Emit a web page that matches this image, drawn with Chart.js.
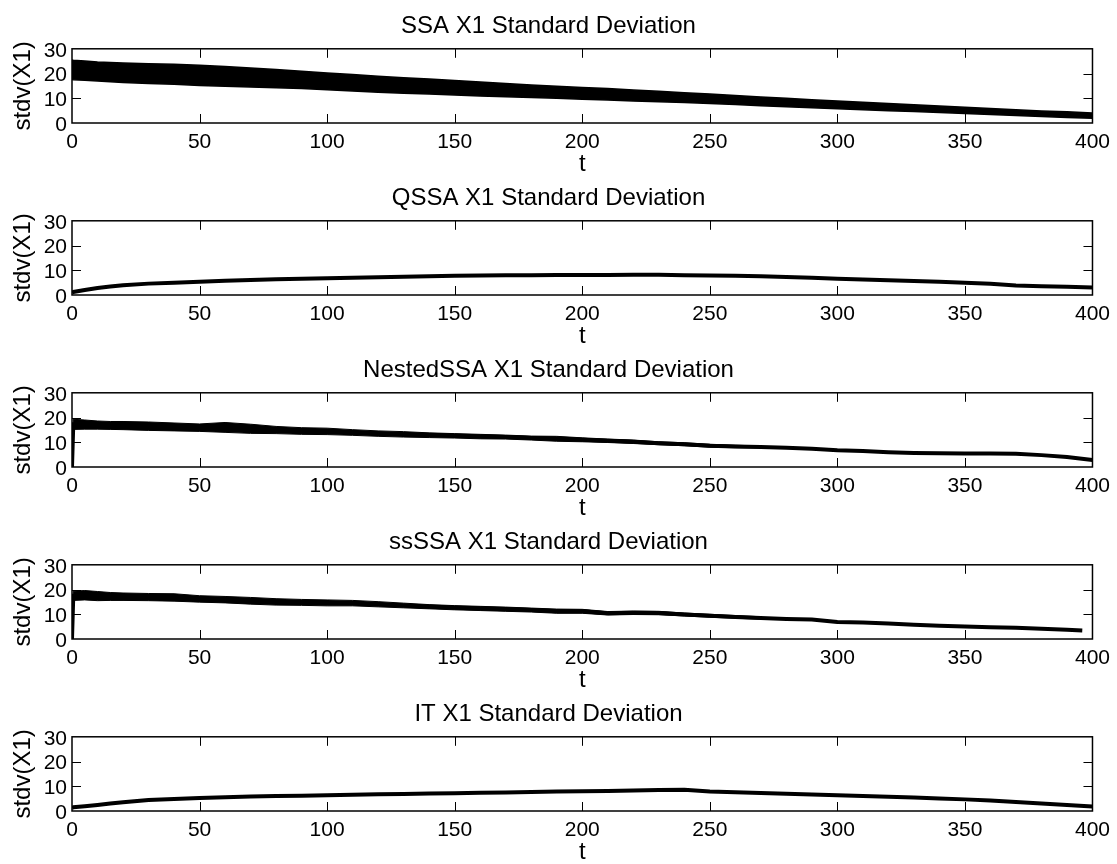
<!DOCTYPE html>
<html lang="en">
<head>
<meta charset="UTF-8">
<title>X1 Standard Deviation</title>
<script src="https://cdn.jsdelivr.net/npm/chart.js"></script>
<style>
  html, body { margin: 0; padding: 0; background: #fff; overflow: hidden; }
  #wrap { position: relative; width: 1117px; height: 864px; }
  .panel { position: absolute; left: 0; width: 1117px; height: 180px; }
</style>
</head>
<body>
<div id="wrap"></div>
<script>
// time points (t)
const tGrid = [0, 0.5, 5, 10, 15, 20, 30, 40, 50, 60, 70, 80, 90, 100, 110, 120, 130, 140, 150,
  160, 170, 180, 190, 200, 210, 220, 230, 240, 250, 260, 270, 280, 290, 300, 310, 320,
  330, 340, 350, 360, 370, 380, 390, 400];
// ssSSA line stops just short of 400
const tSs = tGrid.slice(0, 43).concat([396]);

const xTicks = [0, 50, 100, 150, 200, 250, 300, 350, 400];
const yTicks = [0, 10, 20, 30];

// SSA: the noisy band, upper and lower edge
const ssaHi = [25.5, 25.4, 25.1, 24.7, 24.5, 24.3, 24.0, 23.8, 23.3, 22.8, 22.2, 21.6, 20.9, 20.2,
  19.6, 18.9, 18.3, 17.8, 17.2, 16.6, 16.0, 15.4, 14.9, 14.4, 13.9, 13.3, 12.8, 12.2, 11.7, 11.1,
  10.5, 10.0, 9.4, 8.9, 8.4, 7.9, 7.4, 6.9, 6.4, 5.9, 5.4, 4.9, 4.5, 4.0];
const ssaLo = [17.6, 17.5, 17.3, 17.0, 16.7, 16.4, 16.0, 15.7, 15.2, 14.9, 14.6, 14.3, 13.9, 13.4,
  12.9, 12.4, 12.0, 11.7, 11.3, 10.9, 10.6, 10.3, 10.0, 9.6, 9.3, 8.9, 8.6, 8.3, 7.9, 7.5,
  7.0, 6.6, 6.2, 5.8, 5.4, 5.0, 4.6, 4.2, 3.8, 3.4, 3.0, 2.6, 2.2, 1.9];

// QSSA
const qssa = [1.0, 1.2, 2.0, 2.8, 3.4, 3.9, 4.6, 5.0, 5.4, 5.8, 6.1, 6.4, 6.6, 6.8, 7.0, 7.2, 7.4,
  7.6, 7.8, 7.9, 8.0, 8.0, 8.1, 8.1, 8.1, 8.2, 8.2, 8.0, 7.9, 7.8, 7.6, 7.3, 7.0, 6.6, 6.3, 6.0,
  5.7, 5.4, 5.0, 4.5, 3.8, 3.5, 3.3, 3.0];

// NestedSSA: mid line, plus noise band up to t = 270
const nested = [0, 17.3, 17.2, 17.0, 16.9, 16.8, 16.5, 16.2, 16.0, 15.8, 15.4, 15.0, 14.6, 14.4,
  14.0, 13.5, 13.2, 12.9, 12.6, 12.3, 12.1, 11.7, 11.4, 11.0, 10.6, 10.2, 9.6, 9.2, 8.6, 8.3,
  8.1, 7.8, 7.4, 6.8, 6.5, 6.0, 5.7, 5.6, 5.5, 5.5, 5.4, 4.8, 4.0, 2.8];
const nestedHi = [0, 19.3, 19.0, 18.6, 18.4, 18.4, 18.2, 17.8, 17.4, 18.0, 17.3, 16.4, 15.9, 15.7,
  15.1, 14.6, 14.3, 13.8, 13.5, 13.2, 12.9, 12.5, 12.4, 11.8, 11.3, 10.9, 10.2, 9.8, 9.2, 8.8, 8.5];
const nestedLo = [0, 15.2, 15.3, 15.3, 15.2, 15.1, 14.8, 14.6, 14.4, 14.0, 13.6, 13.5, 13.2, 13.1,
  12.8, 12.4, 12.1, 11.9, 11.7, 11.4, 11.3, 10.9, 10.4, 10.2, 9.9, 9.5, 9.0, 8.6, 8.0, 7.8, 7.7];

// ssSSA
const ss = [0, 17.5, 17.6, 17.3, 17.2, 17.1, 17.0, 16.8, 16.2, 15.9, 15.4, 15.0, 14.8, 14.6,
  14.5, 14.0, 13.5, 13.0, 12.6, 12.3, 12.0, 11.7, 11.2, 11.2, 10.4, 10.6, 10.5, 9.9, 9.4, 8.9,
  8.5, 8.1, 7.9, 6.9, 6.7, 6.3, 5.8, 5.4, 5.1, 4.8, 4.5, 4.1, 3.7, 3.4];
const ssHi = [0, 19.3, 19.6, 19.2, 18.8, 18.6, 18.4, 18.3, 17.5, 17.2, 16.8, 16.3, 16.0, 15.8,
  15.6, 15.1, 14.5, 13.9, 13.5, 13.2, 12.9, 12.5, 12.1, 12.0, 11.1, 11.3, 11.2, 10.5, 10.0, 9.5, 9.0];
const ssLo = [0, 15.6, 15.8, 15.5, 15.6, 15.6, 15.5, 15.3, 14.9, 14.6, 14.1, 13.7, 13.6, 13.4,
  13.4, 13.0, 12.6, 12.2, 11.8, 11.5, 11.2, 10.9, 10.4, 10.4, 9.7, 9.9, 9.8, 9.3, 8.8, 8.4, 8.0];

// IT
const it = [1.3, 1.5, 1.9, 2.4, 3.0, 3.5, 4.4, 4.9, 5.3, 5.6, 5.9, 6.1, 6.2, 6.4, 6.6, 6.8, 6.9,
  7.1, 7.2, 7.4, 7.5, 7.7, 7.9, 8.0, 8.1, 8.3, 8.5, 8.6, 7.9, 7.6, 7.3, 7.0, 6.7, 6.4, 6.1, 5.8,
  5.5, 5.1, 4.7, 4.2, 3.6, 3.0, 2.4, 1.8];

const FONT = '"Liberation Sans", Arial, Helvetica, sans-serif';
Chart.defaults.font.family = FONT;
Chart.defaults.color = '#000';

// matlab style box with inward ticks on all four sides
const boxTicks = {
  id: 'boxTicks',
  afterDatasetsDraw(chart) {
    const { ctx, chartArea: a, scales: { x, y } } = chart;
    const len = 9;
    ctx.save();
    ctx.strokeStyle = '#000';
    ctx.lineWidth = 1;
    ctx.beginPath();
    xTicks.slice(1, -1).forEach(v => {
      const px = Math.round(x.getPixelForValue(v)) + 0.5;
      ctx.moveTo(px, a.bottom); ctx.lineTo(px, a.bottom - len);
      ctx.moveTo(px, a.top); ctx.lineTo(px, a.top + len);
    });
    yTicks.slice(1, -1).forEach(v => {
      const py = Math.round(y.getPixelForValue(v)) + 0.5;
      ctx.moveTo(a.left, py); ctx.lineTo(a.left + len, py);
      ctx.moveTo(a.right, py); ctx.lineTo(a.right - len, py);
    });
    ctx.stroke();
    ctx.lineWidth = 1.5;
    ctx.strokeRect(a.left, a.top, a.right - a.left, a.bottom - a.top);
    ctx.restore();
  }
};

function pts(ts, vs) {
  return vs.map((v, i) => ({ x: ts[i], y: v }));
}

function line(ts, vs, w) {
  return { data: pts(ts, vs), borderColor: '#000', borderWidth: w, pointRadius: 0, fill: false };
}

function band(ts, hi, lo, w) {
  return [
    { data: pts(ts, hi), borderColor: '#000', backgroundColor: '#000', borderWidth: w, pointRadius: 0, fill: '+1' },
    { data: pts(ts, lo), borderColor: '#000', borderWidth: w, pointRadius: 0, fill: false }
  ];
}

const wrap = document.getElementById('wrap');

function makePanel(i, title, datasets) {
  const div = document.createElement('div');
  div.className = 'panel';
  div.style.top = (i * 172) + 'px';
  const c = document.createElement('canvas');
  div.appendChild(c);
  wrap.appendChild(div);
  new Chart(c, {
    type: 'line',
    data: { datasets },
    plugins: [boxTicks],
    options: {
      responsive: true,
      maintainAspectRatio: false,
      animation: false,
      layout: { padding: { left: 0, right: 20, top: 0, bottom: 0 } },
      plugins: {
        legend: { display: false },
        tooltip: { enabled: false },
        title: {
          display: true, text: title, color: '#000',
          font: { size: 24, weight: 'normal' },
          padding: { top: 12, bottom: 8 }
        }
      },
      scales: {
        x: {
          type: 'linear', min: 0, max: 400,
          afterFit(s) { s.height = 57; },
          grid: { display: false, drawTicks: false },
          border: { display: false },
          afterBuildTicks(s) { s.ticks = xTicks.map(v => ({ value: v })); },
          ticks: { font: { size: 21 }, color: '#000', padding: 7, maxRotation: 0, autoSkip: false },
          title: { display: true, text: 't', color: '#000', font: { size: 24 }, padding: { top: 0, bottom: 1 } }
        },
        y: {
          type: 'linear', min: 0, max: 30,
          afterFit(s) { s.width = 72; },
          grid: { display: false, drawTicks: false },
          border: { display: false },
          afterBuildTicks(s) { s.ticks = yTicks.map(v => ({ value: v })); },
          ticks: { font: { size: 21 }, color: '#000', padding: 5, labelOffset: 2, autoSkip: false },
          title: { display: true, text: 'stdv(X1)', color: '#000', font: { size: 24 }, padding: { top: 9, bottom: 0 } }
        }
      }
    }
  });
}

makePanel(0, 'SSA X1 Standard Deviation', band(tGrid, ssaHi, ssaLo, 1.5));
makePanel(1, 'QSSA X1 Standard Deviation', [line(tGrid, qssa, 4)]);
makePanel(2, 'NestedSSA X1 Standard Deviation',
  band(tGrid, nestedHi, nestedLo, 1).concat([line(tGrid, nested, 4)]));
makePanel(3, 'ssSSA X1 Standard Deviation',
  band(tSs, ssHi, ssLo, 1).concat([line(tSs, ss, 4)]));
makePanel(4, 'IT X1 Standard Deviation', [line(tGrid, it, 4)]);
</script>
</body>
</html>
